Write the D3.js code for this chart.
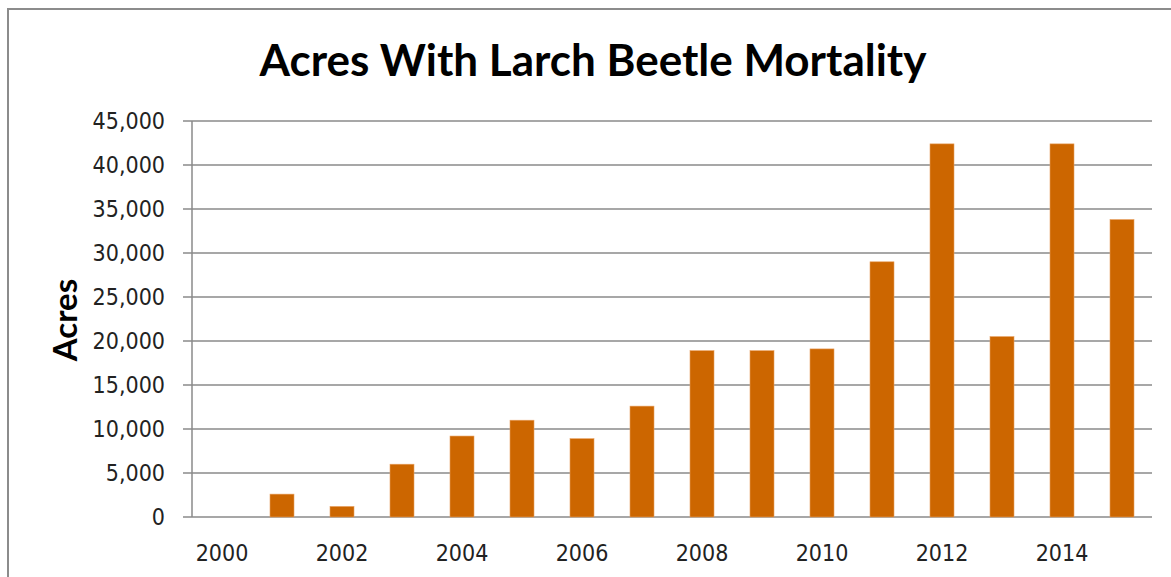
<!DOCTYPE html>
<html>
<head>
<meta charset="utf-8">
<script src="https://cdn.jsdelivr.net/npm/d3@7"></script>
<style>
  body { margin: 0; background: #fff; }
  .tick text { font-family: "DejaVu Sans Condensed", "DejaVu Sans", sans-serif; font-size: 23px; fill: #222; }
</style>
</head>
<body>
<script>
var width = 1171;
var height = 577;

// data
var years = [2000, 2001, 2002, 2003, 2004, 2005, 2006, 2007, 2008, 2009, 2010, 2011, 2012, 2013, 2014, 2015];
var acres = [0, 2600, 1200, 6000, 9200, 11000, 8900, 12600, 18900, 18900, 19100, 29000, 42400, 20500, 42400, 33800];
var yTicks = [0, 5000, 10000, 15000, 20000, 25000, 30000, 35000, 40000, 45000];
var xLabels = [2000, 2002, 2004, 2006, 2008, 2010, 2012, 2014];

var plot = { left: 192, right: 1152, top: 121, bottom: 517 };

var svg = d3.select("body")
  .append("svg")
  .attr("width", width)
  .attr("height", height);

// outer frame (cut off on right and bottom like the picture)
svg.append("rect")
  .attr("x", 8)
  .attr("y", 9)
  .attr("width", 1200)
  .attr("height", 600)
  .attr("fill", "none")
  .attr("stroke", "#8c8c8c")
  .attr("stroke-width", 2);

var x = d3.scaleBand()
  .domain(years)
  .range([plot.left, plot.right])
  .paddingInner(0.6)
  .paddingOuter(0.3);

var y = d3.scaleLinear()
  .domain([0, 45000])
  .range([plot.bottom, plot.top]);

// gridlines
svg.append("g")
  .selectAll("line")
  .data(yTicks)
  .enter()
  .append("line")
  .attr("x1", plot.left - 9)
  .attr("x2", plot.right)
  .attr("y1", function(d) { return y(d); })
  .attr("y2", function(d) { return y(d); })
  .attr("stroke", "#8a8a8a")
  .attr("stroke-width", 1.5);

// y axis
var yAxis = d3.axisLeft(y)
  .tickValues(yTicks)
  .tickFormat(d3.format(","))
  .tickSize(0)
  .tickPadding(27);

var gy = svg.append("g")
  .attr("transform", "translate(" + plot.left + ",0)")
  .call(yAxis);
gy.select(".domain").remove();

svg.append("line")
  .attr("x1", plot.left)
  .attr("x2", plot.left)
  .attr("y1", plot.top)
  .attr("y2", plot.bottom)
  .attr("stroke", "#8a8a8a")
  .attr("stroke-width", 1.5);

// x axis
var xAxis = d3.axisBottom(x)
  .tickValues(xLabels)
  .tickSize(0)
  .tickPadding(28);

var gx = svg.append("g")
  .attr("transform", "translate(0," + plot.bottom + ")")
  .call(xAxis);
gx.select(".domain").remove();

// bars
svg.append("g")
  .selectAll("rect")
  .data(acres)
  .enter()
  .append("rect")
  .attr("x", function(d, i) { return x(years[i]); })
  .attr("y", function(d) { return y(d); })
  .attr("width", x.bandwidth())
  .attr("height", function(d) { return y(0) - y(d); })
  .attr("fill", "#cc6600")
  .attr("stroke", "#e8a060")
  .attr("stroke-width", 0.6);

// title
svg.append("text")
  .attr("x", 593)
  .attr("y", 76)
  .attr("text-anchor", "middle")
  .attr("font-family", "Lato, 'Open Sans', sans-serif")
  .attr("font-weight", "bold")
  .attr("font-size", 44)
  .attr("fill", "#000")
  .text("Acres With Larch Beetle Mortality");

// y axis title
svg.append("text")
  .attr("transform", "translate(77,320) rotate(-90)")
  .attr("text-anchor", "middle")
  .attr("font-family", "Lato, 'Open Sans', sans-serif")
  .attr("font-weight", "bold")
  .attr("font-size", 33)
  .attr("fill", "#000")
  .text("Acres");
</script>
</body>
</html>
